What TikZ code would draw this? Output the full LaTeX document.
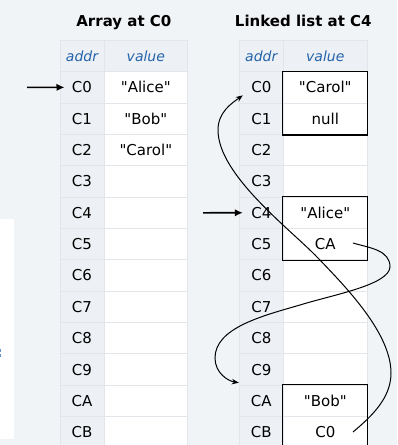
\documentclass[tikz,border=0pt]{standalone}
\usepackage{fontspec}
\setmainfont{DejaVu Sans}[Ligatures=TeXOff]
\usetikzlibrary{arrows.meta}
\definecolor{pagebg}{RGB}{241,244,247}
\definecolor{addrbg}{RGB}{237,240,244}
\definecolor{gridline}{RGB}{226,229,233}
\definecolor{hdrblue}{RGB}{35,100,170}
\begin{document}
\begin{tikzpicture}[x=1pt,y=-1pt,
  cell/.style={draw=gridline, line width=1pt, minimum height=31.35pt, inner sep=0pt,
    text height=11pt, text depth=0pt, font=\fontsize{15}{18}\selectfont},
  acell/.style={cell, fill=addrbg, minimum width=44pt},
  vcell/.style={cell, fill=white, minimum width=#1},
  hcell/.style={draw=gridline, line width=1pt, fill=addrbg, minimum height=31pt, inner sep=0pt,
    minimum width=#1, text=hdrblue, font=\fontsize{14}{17}\selectfont\itshape},
  title/.style={font=\fontsize{15}{18}\selectfont\bfseries, anchor=base, inner sep=0pt},
  ptr/.style={line width=1.6pt, -{Latex[length=8pt,width=7.5pt]}},
  link/.style={line width=1pt, -{Stealth[length=7pt,width=5.5pt]}},
  valbox/.style={draw=black, line width=1.2pt}
]
\useasboundingbox (0,0) rectangle (397,445);
\clip (0,0) rectangle (397,445);
\fill[pagebg] (0,0) rectangle (397,445);
\fill[white] (0,219) rectangle (14,439);
\fill[hdrblue!70] (0,349) rectangle (1.2,351.5);
\fill[hdrblue!70] (0,354) rectangle (1.2,356.5);

% titles
\node[title] (t1) at (123.9,26) {Array at C0};
\node[title] (t2) at (303.3,26) {Linked list at C4};

% headers
\node[hcell=44pt] (ah) at (82,56.2) {addr};
\node[hcell=83.7pt] (vh) at (145.85,56.2) {value};
\node[hcell=44pt] (lah) at (261.3,56.2) {addr};
\node[hcell=84pt] (lvh) at (325.3,56.2) {value};

% rows
\foreach \i/\lab/\av/\lv in {0/C0/"Alice"/"Carol", 1/C1/"Bob"/null, 2/C2/"Carol"/{},
  3/C3/{}/{}, 4/C4/{}/"Alice", 5/C5/{}/CA, 6/C6/{}/{}, 7/C7/{}/{}, 8/C8/{}/{},
  9/C9/{}/{}, 10/CA/{}/"Bob", 11/CB/{}/C0} {
  \pgfmathsetmacro{\yc}{87.375+31.35*\i}
  \node[acell] (aA\i) at (82,\yc) {\lab};
  \node[vcell=83.7pt] (aV\i) at (145.85,\yc) {\av};
  \node[acell] (lA\i) at (261.3,\yc) {\lab};
  \node[vcell=84pt] (lV\i) at (325.3,\yc) {\lv};
}

% boxes of the linked list
\draw[valbox] (lV0.north west) rectangle (lV1.south east);
\draw[valbox] (lV4.north west) rectangle (lV5.south east);
\draw[valbox] (lV10.north west) rectangle (lV11.south east);

% head pointers
\coordinate (h1) at (27,87.4);
\coordinate (h2) at (203,212.8);
\draw[ptr] (h1) -- ([xshift=5pt]aA0.west);
\draw[ptr] (h2) -- ([xshift=4pt]lA4.west);

% next links
\coordinate (n1) at (353,243);
\coordinate (n2) at (353,432);
\draw[link] (n1) .. controls (370,248) and (390,250) .. (390,267)
  .. controls (389,285) and (332,295) .. (300,305)
  .. controls (262,316) and (215,328) .. (215,358)
  .. controls (215,373) and (228,381) .. ([xshift=0pt,yshift=2pt]lA10.north west);
\draw[link] (n2) .. controls (372,416) and (391,398) .. (391,373)
  .. controls (391,333) and (345.6,286.8) .. (318,258)
  .. controls (290.4,229.2) and (218,175) .. (218,130)
  .. controls (218,112) and (232,103) .. ([xshift=4pt,yshift=-8pt]lA0.west);
\end{tikzpicture}
\end{document}
